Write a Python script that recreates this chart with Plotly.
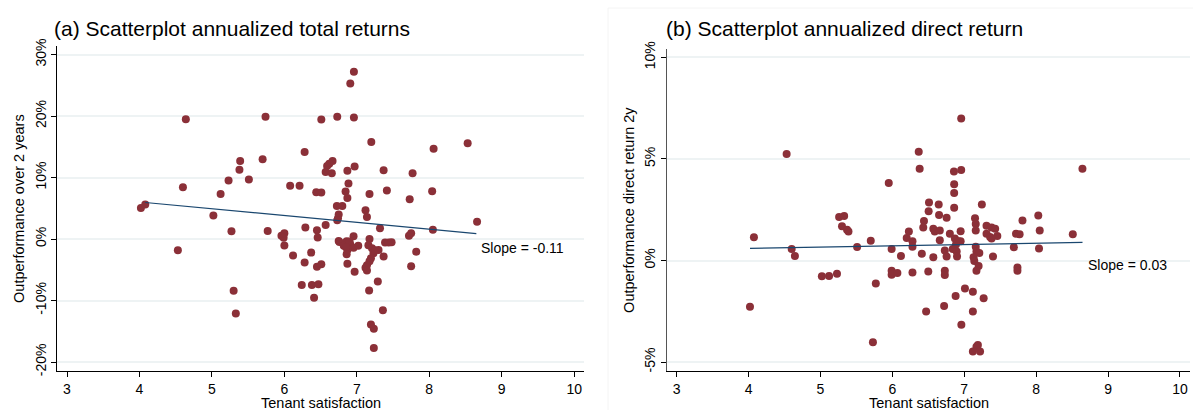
import plotly.graph_objects as go

# ---------------- Data ----------------
# Panel (a): tenant satisfaction vs. outperformance over 2 years (%)
sat_a = [4.02, 4.08, 4.64, 4.53, 4.60, 5.02, 5.12, 5.23, 5.27, 5.30, 5.33, 5.38, 5.39,
         5.51, 5.70, 5.74, 5.77, 5.96, 6.00, 5.99, 6.00, 6.08, 6.12, 6.21, 6.24, 6.28,
         6.29, 6.28, 6.37, 6.38, 6.41, 6.44, 6.45, 6.45, 6.46, 6.47, 6.51, 6.96, 6.91,
         6.73, 6.96, 7.20, 8.53, 8.06, 6.665, 6.62, 6.59, 6.57, 6.655, 6.87, 6.97, 7.37,
         7.77, 6.885, 6.51, 6.845, 6.87, 7.175, 7.415, 8.04, 7.73, 6.725, 6.80, 7.12,
         7.14, 6.75, 6.74, 6.73, 6.57, 7.32, 8.05, 8.66, 7.72, 7.75, 6.955, 7.175, 6.75,
         6.76, 6.86, 6.82, 6.91, 6.955, 7.02, 6.87, 6.86, 7.16, 7.21, 7.30, 7.23, 7.37,
         7.195, 7.175, 7.14, 7.12, 7.14, 7.39, 7.44, 7.48, 7.82, 7.75, 6.87, 6.97, 7.29,
         7.17, 6.51, 7.36, 7.195, 7.235, 7.235, 6.90, 6.85, 7.25]
ret_a = [5.05, 5.63, 19.5, -1.83, 8.42, 3.85, 7.32, 9.53, 1.26, -8.4, -12.1, 11.26, 12.7,
         9.68, 13.0, 19.9, 1.32, 0.53, 0.95, 0.22, -1.04, 8.68, -2.68, 8.68, -7.46, 14.15,
         1.89, -3.79, -2.2, -7.46, -9.56, 7.63, 1.42, -4.5, 0.27, -7.35, 19.46, 27.24, 25.3,
         19.9, 19.78, 15.8, 15.6, 14.7, 12.7, 12.25, 11.9, 10.9, 10.7, 11.1, 11.8, 11.2,
         10.7, 9.05, 7.57, 7.73, 6.7, 7.32, 7.89, 7.79, 6.5, 5.4, 5.4, 4.68,
         3.58, 4.0, 3.4, 3.05, 2.3, 1.77, 1.53, 2.84, 0.55, 0.93, 0.47, 0.03, -0.32,
         -0.47, -0.37, -1.1, -0.89, -1.42, -1.1, -1.78, -2.46, -1.0, -1.5, -1.78, -2.3, -2.84,
         -3.1, -3.6, -4.26, -4.67, -5.1, -0.57, -0.55, -0.5, -2.05, -4.4, -4.0, -5.3, -6.9,
         -8.36, -4.1, -11.56, -13.9, -14.6, -17.7, -0.41, -1.3, -1.8]

# Panel (b): tenant satisfaction vs. outperformance direct return 2y (%)
sat_b = [4.53, 4.075, 4.02, 4.60, 4.645, 5.02, 5.12, 5.23, 5.26, 5.33, 5.30, 5.37, 5.39,
         5.51, 5.70, 5.77, 5.73, 5.95, 5.99, 6.12, 5.99, 5.99, 6.07, 6.20, 6.23, 6.958,
         6.367, 6.38, 6.857, 6.958, 6.86, 6.86, 6.51, 6.645, 6.86, 7.245, 6.505, 6.65,
         6.755, 7.15, 6.44, 7.16, 7.16, 6.43, 6.57, 6.59, 6.66, 6.80, 6.95, 7.31, 7.38,
         7.43, 7.31, 7.36, 7.46, 6.28, 6.28, 6.66, 6.87, 6.92, 6.95, 6.885, 6.84, 6.895,
         6.90, 6.73, 6.755, 6.41, 6.57, 7.16, 7.17, 7.21, 7.13, 7.14, 7.40, 6.28, 6.50,
         6.73, 6.73, 7.20, 7.17, 7.01, 7.12, 6.88, 7.27, 6.72, 6.47, 7.12, 6.96, 7.19,
         7.17, 7.22, 7.12, 8.644, 8.03, 7.81, 8.05, 7.72, 7.77, 8.51, 7.38, 7.69, 8.04,
         7.74, 7.74]
ret_b = [5.24, 1.14, -2.27, 0.57, 0.22, -0.78, -0.76, -0.65, 2.14, 2.19, 1.68, 1.51, 1.43,
         0.67, 0.97, -1.13, -4.02, 3.81, 0.57, 0.22, -0.51, -0.7, -0.62, 1.11, 1.43, 6.99,
         5.35, 4.52, 4.38, 4.46, 3.75, 3.32, 2.86, 2.75, 2.6, 2.75, 2.43, 2.24,
         2.11, 2.08, 1.95, 1.8, 1.48, 1.63, 1.56, 1.43, 1.48, 1.32, 1.44, 1.71, 1.63,
         1.56, 1.32, 1.16, 1.2, 0.95, 0.68, 1.0, 1.08, 0.95, 0.95, 0.79, 0.56, 0.44,
         0.2, 0.49, 0.2, 0.33, 0.16, 0.68, 0.44, 0.37, 0.16, -0.03, 0.2, -0.59, -0.54,
         -0.51, -0.71, -0.27, -0.51, -1.38, -1.54, -1.75, -1.86, -2.24, -2.51, -2.51, -3.16, -4.16,
         -4.24, -4.48, -4.48, 4.52, 2.22, 1.97, 1.48, 1.32, 1.29, 1.29, 1.08, 0.65, 0.59,
         -0.35, -0.51]

# Fitted lines (endpoints)
fit_x_a = [4.08, 8.65]
fit_y_a = [5.95, 0.90]
fit_x_b = [4.02, 8.645]
fit_y_b = [0.60, 0.89]

slope_a = "Slope = -0.11"
slope_b = "Slope = 0.03"

x_ticks = [3, 4, 5, 6, 7, 8, 9, 10]
y_ticks_a = [-20, -10, 0, 10, 20, 30]
y_labels_a = ["-20%", "-10%", "0%", "10%", "20%", "30%"]
y_ticks_b = [-5, 0, 5, 10]
y_labels_b = ["-5%", "0%", "5%", "10%"]

# ---------------- Styling ----------------
MARKER = "#8B3038"
LINE = "#1A476F"
GRID = "#EEF3F4"
FONT = "Liberation Sans, Arial, Helvetica, sans-serif"
W, H = 1193, 415


def px_x(p):
    return p / W


def px_y(p):
    return 1 - p / H


fig = go.Figure()

fig.add_trace(go.Scatter(x=sat_a, y=ret_a, mode="markers", xaxis="x", yaxis="y",
                         marker=dict(color=MARKER, size=8, line=dict(width=0)),
                         showlegend=False, hoverinfo="x+y"))
fig.add_trace(go.Scatter(x=fit_x_a, y=fit_y_a, mode="lines", xaxis="x", yaxis="y",
                         line=dict(color=LINE, width=1.2), showlegend=False))
fig.add_trace(go.Scatter(x=sat_b, y=ret_b, mode="markers", xaxis="x2", yaxis="y2",
                         marker=dict(color=MARKER, size=8, line=dict(width=0)),
                         showlegend=False, hoverinfo="x+y"))
fig.add_trace(go.Scatter(x=fit_x_b, y=fit_y_b, mode="lines", xaxis="x2", yaxis="y2",
                         line=dict(color=LINE, width=1.2), showlegend=False))

xaxis_common = dict(
    range=[2.866, 10.14], tickvals=x_ticks, ticks="outside", ticklen=5, tickwidth=1,
    tickcolor="black", showline=True, linecolor="black", linewidth=1.2,
    showgrid=False, zeroline=False,
    tickfont=dict(size=14, color="black", family=FONT),
)

yaxis_common = dict(
    ticks="outside", ticklen=5, tickwidth=1, tickcolor="black", tickangle=-90,
    showline=True, linewidth=1.2, showgrid=True, gridcolor=GRID, gridwidth=1.5,
    zeroline=False, tickfont=dict(size=14, color="black", family=FONT),
)

fig.update_layout(
    width=W, height=H,
    margin=dict(l=0, r=0, t=0, b=0),
    paper_bgcolor="white", plot_bgcolor="white",
    font=dict(family=FONT, color="black"),
    xaxis=dict(domain=[px_x(57.3), px_x(584.3)], anchor="y", **xaxis_common),
    yaxis=dict(domain=[px_y(375), px_y(39.3)], anchor="x", range=[-21.5, 31.4],
               tickvals=y_ticks_a, ticktext=y_labels_a, linecolor="black",
               title=dict(text="Outperformance over 2 years",
                          font=dict(size=14.5, color="black", family=FONT), standoff=4),
               **yaxis_common),
    xaxis2=dict(domain=[px_x(667), px_x(1190)], anchor="y2", **xaxis_common),
    yaxis2=dict(domain=[px_y(375), px_y(42.3)], anchor="x2", range=[-5.45, 10.41],
                tickvals=y_ticks_b, ticktext=y_labels_b, linecolor="#555555",
                title=dict(text="Outperformance direct return 2y",
                           font=dict(size=14.5, color="black", family=FONT), standoff=4),
                **yaxis_common),
    annotations=[
        dict(text="(a) Scatterplot annualized total returns", xref="paper", yref="paper",
             x=px_x(52), y=px_y(21), xanchor="left", yanchor="middle", showarrow=False,
             font=dict(size=21, color="black", family=FONT)),
        dict(text="(b) Scatterplot annualized direct return", xref="paper", yref="paper",
             x=px_x(664), y=px_y(21), xanchor="left", yanchor="middle", showarrow=False,
             font=dict(size=21, color="black", family=FONT)),
        dict(text="Tenant satisfaction", xref="paper", yref="paper",
             x=px_x((57.3 + 584.3) / 2), y=px_y(407.5), xanchor="center", yanchor="middle",
             showarrow=False, borderpad=0, font=dict(size=14.5, color="black", family=FONT)),
        dict(text="Tenant satisfaction", xref="paper", yref="paper",
             x=px_x((667 + 1190) / 2), y=px_y(407.5), xanchor="center", yanchor="middle",
             showarrow=False, borderpad=0, font=dict(size=14.5, color="black", family=FONT)),
        dict(text=slope_a, xref="x", yref="y", x=8.69, y=-1.5, xanchor="left",
             yanchor="middle", showarrow=False, font=dict(size=14, color="black", family=FONT)),
        dict(text=slope_b, xref="x2", yref="y2", x=8.70, y=-0.24, xanchor="left",
             yanchor="middle", showarrow=False, font=dict(size=14, color="black", family=FONT)),
    ],
    shapes=[
        dict(type="line", xref="paper", yref="paper", x0=px_x(608), x1=px_x(608), y0=0, y1=1,
             line=dict(color="#F4F4F4", width=1)),
        dict(type="line", xref="paper", yref="paper", x0=px_x(608), x1=1, y0=1, y1=1,
             line=dict(color="#F4F4F4", width=1)),
    ],
)

fig.write_html("out.html", config={"displayModeBar": False},
               post_script="document.body.style.margin='0px';")
